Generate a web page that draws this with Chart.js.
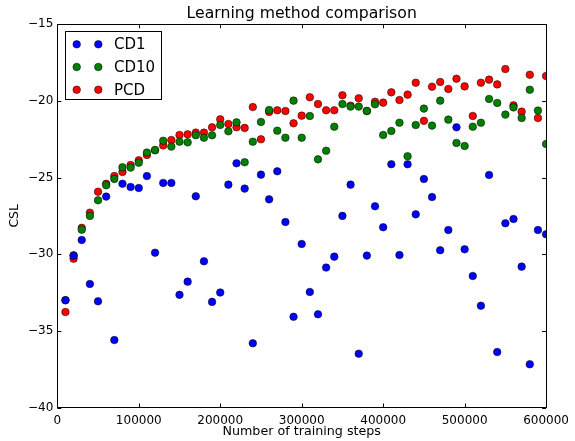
<!DOCTYPE html>
<html>
<head>
<meta charset="utf-8">
<script src="https://cdn.jsdelivr.net/npm/chart.js@4.4.0/dist/chart.umd.min.js"></script>
<style>
  html, body { margin: 0; padding: 0; background: #fff; }
</style>
</head>
<body>
<canvas id="chart" width="575" height="441"></canvas>
<script>
// data
const steps = [10000, 20000, 30000, 40000, 50000, 60000, 70000, 80000, 90000, 100000,
  110000, 120000, 130000, 140000, 150000, 160000, 170000, 180000, 190000, 200000,
  210000, 220000, 230000, 240000, 250000, 260000, 270000, 280000, 290000, 300000,
  310000, 320000, 330000, 340000, 350000, 360000, 370000, 380000, 390000, 400000,
  410000, 420000, 430000, 440000, 450000, 460000, 470000, 480000, 490000, 500000,
  510000, 520000, 530000, 540000, 550000, 560000, 570000, 580000, 590000, 600000];

const cd1 = [-33.0, -30.1, -29.07, -31.94, -33.07, -26.24, -35.6, -25.4, -25.61, -25.68,
  -24.9, -29.9, -25.35, -25.35, -32.65, -31.79, -26.22, -30.46, -33.11, -32.5,
  -25.46, -24.07, -25.72, -35.81, -24.81, -26.42, -24.59, -27.9, -34.08, -29.33,
  -32.46, -33.92, -30.87, -30.16, -27.5, -25.46, -36.49, -30.09, -26.87, -28.24,
  -24.13, -30.05, -24.13, -27.4, -25.09, -26.27, -29.74, -28.42, -21.72, -29.68,
  -31.42, -33.36, -24.83, -36.38, -27.98, -27.7, -30.81, -37.18, -28.42, -28.7];

const cd10 = [-33.0, -30.07, -28.4, -27.5, -26.48, -25.5, -25.09, -24.33, -24.35, -24.03,
  -23.37, -23.2, -22.6, -22.98, -22.66, -22.7, -22.24, -22.4, -22.24, -21.57,
  -21.98, -21.4, -24.0, -22.66, -21.37, -20.59, -21.94, -22.4, -19.98, -22.4,
  -20.98, -23.81, -23.25, -21.68, -20.2, -20.37, -20.37, -20.65, -20.22, -22.22,
  -21.96, -21.42, -23.61, -21.57, -20.5, -21.61, -19.98, -21.22, -22.74, -22.94,
  -21.68, -21.42, -19.87, -20.13, -20.89, -20.42, -21.11, -19.27, -20.63, -22.81];

const pcd = [-33.77, -30.29, -28.28, -27.29, -25.92, -25.4, -24.9, -24.63, -24.18, -23.87,
  -23.53, -23.22, -22.9, -22.55, -22.22, -22.18, -22.07, -22.07, -21.72, -21.2,
  -21.5, -21.72, -21.76, -20.4, -22.5, -20.72, -20.61, -20.66, -21.46, -20.96,
  -19.76, -20.2, -20.61, -20.61, -19.63, -20.31, -19.83, -20.66, -20.05, -20.11,
  -19.44, -19.94, -19.59, -18.81, -21.3, -19.07, -18.76, -19.22, -18.55, -19.05,
  -20.98, -18.81, -18.61, -18.92, -17.92, -20.29, -20.7, -18.29, -21.11, -18.37];

const seriesNames = ["CD1", "CD10", "PCD"];
const xTicks = [0, 100000, 200000, 300000, 400000, 500000, 600000];
const yTicks = [-40, -35, -30, -25, -20, -15];

const FONT = "'DejaVu Sans', sans-serif";
const colors = ["#0000ff", "#007f00", "#ff0000"];

const toPoints = (ys) => ys.map((y, i) => ({ x: steps[i], y: y }));

// frame, inward ticks, titles and legend like matplotlib
const decor = {
  id: "decor",
  afterDatasetsDraw(chart) {
    const ctx = chart.ctx;
    const a = chart.chartArea;
    const xs = chart.scales.x;
    const ys = chart.scales.y;
    ctx.save();
    ctx.strokeStyle = "#000";
    ctx.lineWidth = 1;
    ctx.beginPath();
    xTicks.forEach((v) => {
      const px = Math.round(xs.getPixelForValue(v)) + 0.5;
      ctx.moveTo(px, a.bottom); ctx.lineTo(px, a.bottom - 4);
      ctx.moveTo(px, a.top); ctx.lineTo(px, a.top + 4);
    });
    yTicks.forEach((v) => {
      const py = Math.round(ys.getPixelForValue(v)) + 0.5;
      ctx.moveTo(a.left, py); ctx.lineTo(a.left + 4, py);
      ctx.moveTo(a.right, py); ctx.lineTo(a.right - 4, py);
    });
    ctx.stroke();
    ctx.strokeRect(Math.round(a.left) + 0.5, Math.round(a.top) + 0.5,
      Math.round(a.right - a.left), Math.round(a.bottom - a.top));

    // titles
    ctx.fillStyle = "#000";
    ctx.textAlign = "center";
    ctx.textBaseline = "middle";
    const cx = (a.left + a.right) / 2;
    ctx.font = "15.7px " + FONT;
    ctx.fillText("Learning method comparison", cx, 14);
    ctx.font = "12.7px " + FONT;
    ctx.fillText("Number of training steps", cx, 432);
    ctx.save();
    ctx.translate(15, (a.top + a.bottom) / 2);
    ctx.rotate(-Math.PI / 2);
    ctx.font = "12.4px " + FONT;
    ctx.fillText("CSL", 0, 0);
    ctx.restore();

    // legend
    ctx.fillStyle = "#fff";
    ctx.fillRect(65.5, 31.5, 96, 68);
    ctx.strokeRect(65.5, 31.5, 96, 68);
    ctx.font = "15px " + FONT;
    ctx.textAlign = "left";
    chart.data.datasets.forEach((ds, i) => {
      const y = 44.3 + i * 22.7;
      [76.7, 98.3].forEach((mx) => {
        ctx.beginPath();
        ctx.arc(mx, y, 3.8, 0, Math.PI * 2);
        ctx.fillStyle = ds.backgroundColor;
        ctx.fill();
        ctx.lineWidth = 0.5;
        ctx.strokeStyle = "#000";
        ctx.stroke();
      });
      ctx.fillStyle = "#000";
      ctx.fillText(ds.label, 114, y + 1);
    });
    ctx.restore();
  }
};

const minus = (v) => (v < 0 ? "\u2212" + Math.abs(v) : String(v));

new Chart(document.getElementById("chart"), {
  type: "scatter",
  data: {
    datasets: [cd1, cd10, pcd].map((ys, i) => ({
      label: seriesNames[i],
      data: toPoints(ys),
      backgroundColor: colors[i],
      borderColor: "#000",
      borderWidth: 0.5,
      pointRadius: 3.8,
      pointHoverRadius: 3.8,
      clip: 0
    }))
  },
  options: {
    responsive: false,
    animation: false,
    devicePixelRatio: 1,
    layout: { padding: { left: 0, top: 24.3, right: 25, bottom: 0 } },
    plugins: { legend: { display: false }, tooltip: { enabled: false }, title: { display: false } },
    scales: {
      x: {
        type: "linear",
        min: 0,
        max: 600000,
        afterBuildTicks: (s) => { s.ticks = xTicks.map((v) => ({ value: v })); },
        afterFit: (s) => { s.height = 33.5; },
        grid: { display: false, drawTicks: false },
        border: { display: false },
        ticks: { callback: (v) => String(v), color: "#000", font: { family: FONT, size: 12 }, padding: 6, maxRotation: 0, autoSkip: false }
      },
      y: {
        type: "linear",
        min: -40,
        max: -15,
        afterBuildTicks: (s) => { s.ticks = yTicks.map((v) => ({ value: v })); },
        afterFit: (s) => { s.width = 57.3; },
        grid: { display: false, drawTicks: false },
        border: { display: false },
        ticks: { callback: minus, color: "#000", font: { family: FONT, size: 12 }, padding: 4 }
      }
    }
  },
  plugins: [decor]
});
</script>
</body>
</html>
